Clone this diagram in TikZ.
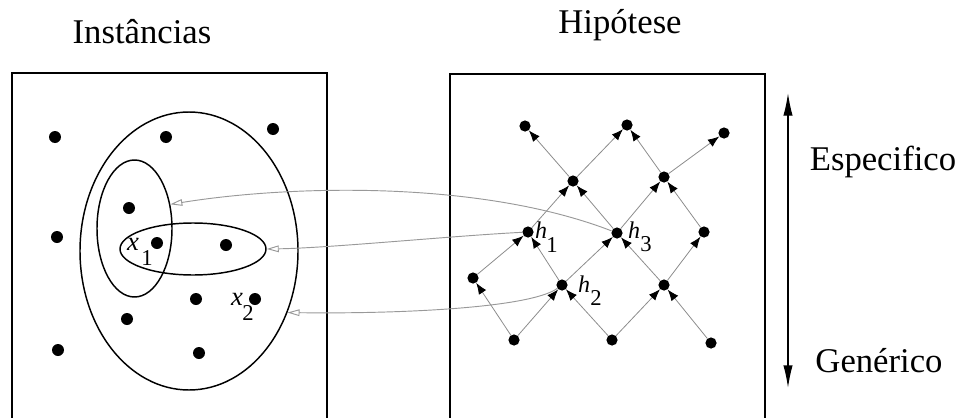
\documentclass[tikz,border=0pt]{standalone}
\usepackage{fontspec}
\setmainfont{Liberation Serif}
\usetikzlibrary{arrows.meta,shapes.geometric}
\begin{document}
\begin{tikzpicture}[x=0.75pt,y=-0.75pt,
 dot/.style={circle,fill=black,inner sep=0pt,minimum size=9pt},
 hdot/.style={circle,fill=black,inner sep=0pt,minimum size=8.4pt},
 frame/.style={draw=black,line width=1.5pt},
 setell/.style={draw=black,ellipse,line width=1.1pt,inner sep=0pt},
 lat/.style={draw=black!45,line width=0.6pt,-{Latex[black,length=8.5pt,width=6.5pt]}},
 curv/.style={draw=black!40,line width=0.7pt,-{Triangle[open,length=9pt,width=5pt,fill=white]}},
 vert/.style={draw=black,line width=1pt,{Latex[length=17pt,width=7pt]}-{Latex[length=17pt,width=7pt]}},
 title/.style={font=\fontsize{26}{30}\selectfont,anchor=base,inner sep=0pt},
 lbl/.style={font=\fontsize{20}{22}\selectfont\itshape,inner sep=0pt},
 hlbl/.style={font=\fontsize{18}{20}\selectfont\itshape,inner sep=0pt},
 sub/.style={font=\fontsize{17}{19}\selectfont,inner sep=0pt}]
\useasboundingbox (0,0) rectangle (965,418);
\clip (0,0) rectangle (965,418);

% titles
\node[title] (tinst) at (142,43) {Instâncias};
\node[title] (thip) at (620,33) {Hipótese};
\node[title] (tesp) at (883,170) {Especifico};
\node[title] (tgen) at (879,372) {Genérico};

% frames
\draw[frame] (12,73) rectangle (327,430);
\draw[frame] (450,74) rectangle (765,430);

% instance dots
\node[dot] (d1) at (55,137) {};
\node[dot] (d2) at (166,137) {};
\node[dot] (d3) at (273,129) {};
\node[dot] (d4) at (129,208) {};
\node[dot] (d5) at (57,237) {};
\node[dot] (x1) at (157,243) {};
\node[dot] (d7) at (226,245) {};
\node[dot] (d8) at (196,299) {};
\node[dot] (x2) at (255,299) {};
\node[dot] (d10) at (127,319) {};
\node[dot] (d11) at (58,350) {};
\node[dot] (d12) at (199,353) {};

% sets
\node[setell,minimum width=163.5pt,minimum height=208.5pt] (big) at (189,251) {};
\node[setell,minimum width=56.25pt,minimum height=102.75pt] (vell) at (134.5,228.5) {};
\node[setell,minimum width=109.5pt,minimum height=39pt] (hell) at (193,249) {};

% x labels
\node[lbl] (lx1) at (133,244) {x};
\node[sub] (sx1) at (147,258) {1};
\node[lbl] (lx2) at (237,299) {x};
\node[sub] (sx2) at (248,313) {2};

% hypothesis lattice
\node[hdot] (t1) at (525,126) {};
\node[hdot] (t2) at (627,125) {};
\node[hdot] (t3) at (724,133) {};
\node[hdot] (c1) at (573,181) {};
\node[hdot] (c2) at (664,177) {};
\node[hdot] (h1) at (528,232) {};
\node[hdot] (h3) at (617,233) {};
\node[hdot] (p1) at (704,232) {};
\node[hdot] (m1) at (473,278) {};
\node[hdot] (h2) at (562,285) {};
\node[hdot] (r3) at (664,285) {};
\node[hdot] (b1) at (514,340) {};
\node[hdot] (b2) at (612,340) {};
\node[hdot] (b3) at (711,343) {};

\draw[lat] (b1) -- (m1);
\draw[lat] (b1) -- (h2);
\draw[lat] (b2) -- (h2);
\draw[lat] (b2) -- (r3);
\draw[lat] (b3) -- (r3);
\draw[lat] (m1) -- (h1);
\draw[lat] (h2) -- (h1);
\draw[lat] (h2) -- (h3);
\draw[lat] (r3) -- (h3);
\draw[lat] (r3) -- (p1);
\draw[lat] (h1) -- (c1);
\draw[lat] (h3) -- (c1);
\draw[lat] (h3) -- (c2);
\draw[lat] (p1) -- (c2);
\draw[lat] (c1) -- (t1);
\draw[lat] (c1) -- (t2);
\draw[lat] (c2) -- (t2);
\draw[lat] (c2) -- (t3);

% h labels
\node[hlbl] (lh1) at (541,230) {h};
\node[sub] (sh1) at (552,245) {1};
\node[hlbl] (lh3) at (634,230) {h};
\node[sub] (sh3) at (646,244) {3};
\node[hlbl] (lh2) at (584,284) {h};
\node[sub] (sh2) at (596,298) {2};

% mapping curves
\draw[curv] (h3) .. controls (480,180) and (290,185) .. (vell.34);
\draw[curv] (h1) .. controls (450,236) and (330,248) .. (hell.east);
\draw[curv] (h2) .. controls (530,308) and (400,314) .. (big.-32);

% generality axis
\coordinate (vtop) at (788,93);
\coordinate (vbot) at (788,388);
\draw[vert] (vbot) -- (vtop);
\end{tikzpicture}
\end{document}
